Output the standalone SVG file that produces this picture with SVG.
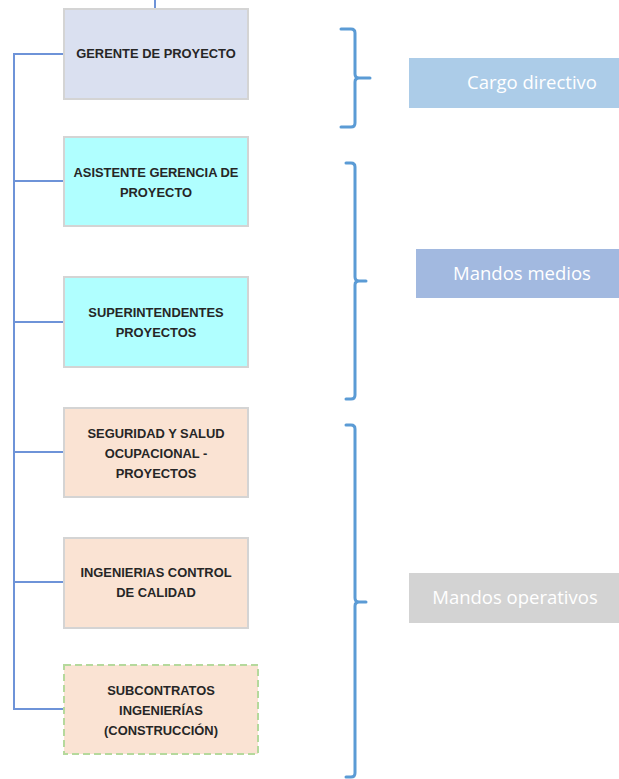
<svg xmlns="http://www.w3.org/2000/svg" width="619" height="779" viewBox="0 0 619 779">
  <style>
    .node { stroke: #d4d4d4; stroke-width: 2; }
    .lead { fill: #dae0f0; }
    .mid { fill: #b0ffff; }
    .ops { fill: #fae3d3; }
    .sub { fill: #fae3d3; stroke: #b5d99c; stroke-width: 2; stroke-dasharray: 7 4; }
    .t { font-family: "Liberation Sans", Arial, sans-serif; font-weight: bold; font-size: 12.9px; fill: #262626; text-anchor: middle; }
    .conn { fill: none; stroke: #6e93d8; stroke-width: 2; }
    .brace { fill: none; stroke: #5b9bd5; stroke-width: 3; stroke-linecap: round; stroke-linejoin: round; }
    .lbl { font-family: "Open Sans", "Liberation Sans", sans-serif; font-size: 18.5px; fill: #ffffff; text-anchor: middle; }
  </style>

  <!-- connectors -->
  <g id="connectors">
    <line class="conn" x1="155" y1="0" x2="155" y2="8" stroke-width="1.5"/>
    <path class="conn" d="M64 54 H14 V709 H64"/>
    <line class="conn" x1="14" y1="181" x2="64" y2="181"/>
    <line class="conn" x1="14" y1="322" x2="64" y2="322"/>
    <line class="conn" x1="14" y1="452" x2="64" y2="452"/>
    <line class="conn" x1="14" y1="582" x2="64" y2="582"/>
  </g>

  <g id="gerente">
    <rect class="node lead" x="64" y="9" width="184" height="90"/>
    <text class="t" x="156" y="58">GERENTE DE PROYECTO</text>
  </g>

  <g id="asistente">
    <rect class="node mid" x="64" y="137" width="184" height="89"/>
    <text class="t" x="156" y="177">ASISTENTE GERENCIA DE</text>
    <text class="t" x="156" y="197">PROYECTO</text>
  </g>

  <g id="superintendentes">
    <rect class="node mid" x="64" y="277" width="184" height="90"/>
    <text class="t" x="156" y="317">SUPERINTENDENTES</text>
    <text class="t" x="156" y="337">PROYECTOS</text>
  </g>

  <g id="seguridad">
    <rect class="node ops" x="64" y="408" width="184" height="89"/>
    <text class="t" x="156" y="438">SEGURIDAD Y SALUD</text>
    <text class="t" x="156" y="458">OCUPACIONAL -</text>
    <text class="t" x="156" y="478">PROYECTOS</text>
  </g>

  <g id="calidad">
    <rect class="node ops" x="64" y="538" width="184" height="90"/>
    <text class="t" x="156" y="577">INGENIERIAS CONTROL</text>
    <text class="t" x="156" y="597">DE CALIDAD</text>
  </g>

  <g id="subcontratos">
    <rect class="sub" x="64" y="665" width="194" height="89"/>
    <text class="t" x="161" y="695">SUBCONTRATOS</text>
    <text class="t" x="161" y="715">INGENIERÍAS</text>
    <text class="t" x="161" y="735">(CONSTRUCCIÓN)</text>
  </g>

  <!-- level braces -->
  <g id="brace-directivo">
    <path class="brace" d="M341 29 H351 Q355 29 355 33 V74 Q355 78 359 78 H370 M359 78 Q355 78 355 82 V123 Q355 127 351 127 H341"/>
  </g>
  <g id="brace-medios">
    <path class="brace" d="M346 163 H351 Q355 163 355 167 V277 Q355 281 359 281 H366 M359 281 Q355 281 355 285 V395 Q355 399 351 399 H346"/>
  </g>
  <g id="brace-operativos">
    <path class="brace" d="M346 425 H351 Q355 425 355 429 V598 Q355 602 359 602 H366 M359 602 Q355 602 355 606 V773 Q355 777 351 777 H346"/>
  </g>

  <g id="cargo-directivo">
    <rect x="409" y="58" width="210" height="50" fill="#accce8"/>
    <text class="lbl" x="532" y="89">Cargo directivo</text>
  </g>
  <g id="mandos-medios">
    <rect x="416" y="249" width="203" height="49" fill="#a2b9e0"/>
    <text class="lbl" x="522" y="280">Mandos medios</text>
  </g>
  <g id="mandos-operativos">
    <rect x="409" y="573" width="210" height="50" fill="#d3d3d3"/>
    <text class="lbl" x="515" y="604">Mandos operativos</text>
  </g>
</svg>
